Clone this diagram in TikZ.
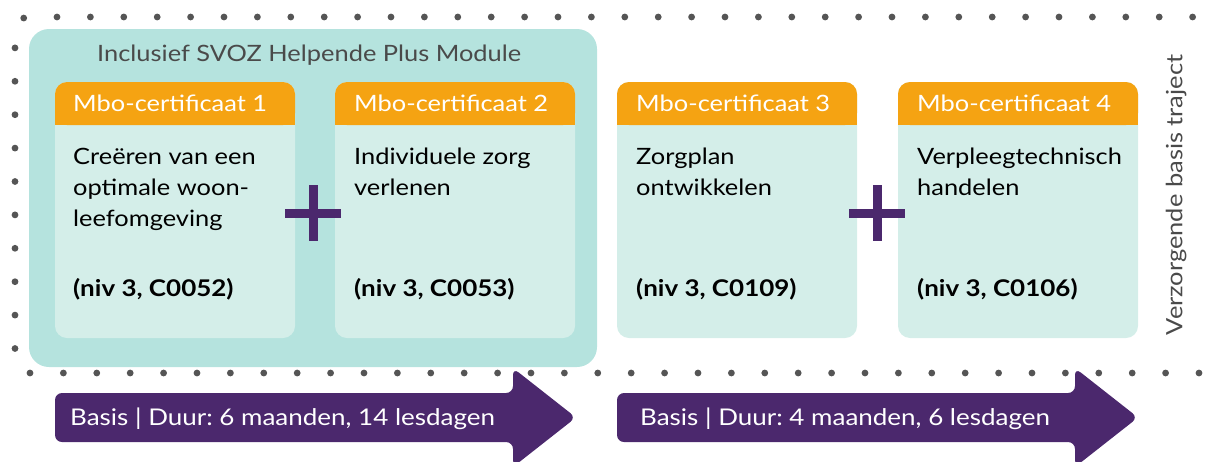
\documentclass[tikz,border=0pt]{standalone}
\usepackage{fontspec}
\setmainfont{Lato}[FakeStretch=1.13]
\usepackage{tikz}
\usetikzlibrary{positioning, calc}
\definecolor{svozteal}{RGB}{181, 227, 222}
\definecolor{cardmint}{RGB}{212, 238, 233}
\definecolor{certorange}{RGB}{245, 163, 18}
\definecolor{trackpurple}{RGB}{75, 40, 109}
\definecolor{dotgray}{RGB}{85, 85, 85}
\definecolor{titlegray}{RGB}{74, 74, 74}
\frenchspacing

\begin{document}
\begin{tikzpicture}[x=1pt, y=-1pt,
  hdrtext/.style={anchor=base west, inner sep=0pt, text=white,
                  font=\fontsize{22.5}{28}\selectfont},
  bodytext/.style={anchor=north west, inner sep=0pt, align=left,
                   font=\fontsize{22.5}{31}\selectfont},
  codetext/.style={anchor=base west, inner sep=0pt,
                   font=\bfseries\fontsize{23}{28}\selectfont},
  duurtext/.style={anchor=base west, inner sep=0pt, text=white,
                   font=\fontsize{23}{28}\selectfont},
  plusbar/.style={trackpurple, line width=9pt},
  dotline/.style={dotgray, line width=6.8pt, line cap=round,
                  dash pattern=on 0pt off 33.4pt, rounded corners=14pt}]

\useasboundingbox (0,0) rectangle (1209,461);

% dotted frame of the basis traject
\draw[dotline] (1226,17) -- (15,17) -- (15,373) -- (1226,373);
\node[rotate=90, text=titlegray, font=\fontsize{22.5}{28}\selectfont]
  (traject) at (1176,195) {Verzorgende basis traject};

% SVOZ module block
\fill[svozteal, rounded corners=20pt] (29,29) rectangle (597,367);
\node[anchor=base west, inner sep=0pt, text=titlegray,
      font=\fontsize{22.5}{28}\selectfont] (svoz) at (97,61)
  {Inclusief SVOZ Helpende Plus Module};

% certificaat 1
\fill[cardmint, rounded corners=12pt] (55,82) rectangle (295,338);
\fill[certorange, rounded corners=12pt] (55,82) rectangle (295,125);
\fill[certorange] (55,105) rectangle (295,125);
\node[hdrtext] (cert1hdr) at (73,111) {Mbo-certificaat 1};
\node[bodytext] (cert1body) at (73,148)
  {Creëren van een\\optimale woon-\\leefomgeving};
\node[codetext] (cert1code) at (73,296) {(niv 3, C0052)};

% certificaat 2
\fill[cardmint, rounded corners=12pt] (335,82) rectangle (575,338);
\fill[certorange, rounded corners=12pt] (335,82) rectangle (575,125);
\fill[certorange] (335,105) rectangle (575,125);
\node[hdrtext] (cert2hdr) at (354,111) {Mbo-certificaat 2};
\node[bodytext] (cert2body) at (354,148) {Individuele zorg\\verlenen};
\node[codetext] (cert2code) at (354,296) {(niv 3, C0053)};

% certificaat 3
\fill[cardmint, rounded corners=12pt] (617,82) rectangle (857,338);
\fill[certorange, rounded corners=12pt] (617,82) rectangle (857,125);
\fill[certorange] (617,105) rectangle (857,125);
\node[hdrtext] (cert3hdr) at (636,111) {Mbo-certificaat 3};
\node[bodytext] (cert3body) at (636,148) {Zorgplan\\ontwikkelen};
\node[codetext] (cert3code) at (636,296) {(niv 3, C0109)};

% certificaat 4
\fill[cardmint, rounded corners=12pt] (898,82) rectangle (1138,338);
\fill[certorange, rounded corners=12pt] (898,82) rectangle (1138,125);
\fill[certorange] (898,105) rectangle (1138,125);
\node[hdrtext] (cert4hdr) at (917,111) {Mbo-certificaat 4};
\node[bodytext] (cert4body) at (917,148) {Verpleegtechnisch\\handelen};
\node[codetext] (cert4code) at (917,296) {(niv 3, C0106)};

% plus signs
\draw[plusbar] (285,213) -- (341,213) (313,185) -- (313,241);
\draw[plusbar] (849,213) -- (905,213) (877,185) -- (877,241);

% duur arrows
\fill[trackpurple, rounded corners=7pt]
  (55,393) -- (513,393) -- (513,368) -- (576,417.5) -- (513,467) -- (513,442) -- (55,442) -- cycle;
\node[duurtext] (duur1) at (70,425) {Basis | Duur: 6 maanden, 14 lesdagen};
\fill[trackpurple, rounded corners=7pt]
  (617,393) -- (1075,393) -- (1075,368) -- (1138,417.5) -- (1075,467) -- (1075,442) -- (617,442) -- cycle;
\node[duurtext] (duur2) at (640,425) {Basis | Duur: 4 maanden, 6 lesdagen};

\end{tikzpicture}
\end{document}
